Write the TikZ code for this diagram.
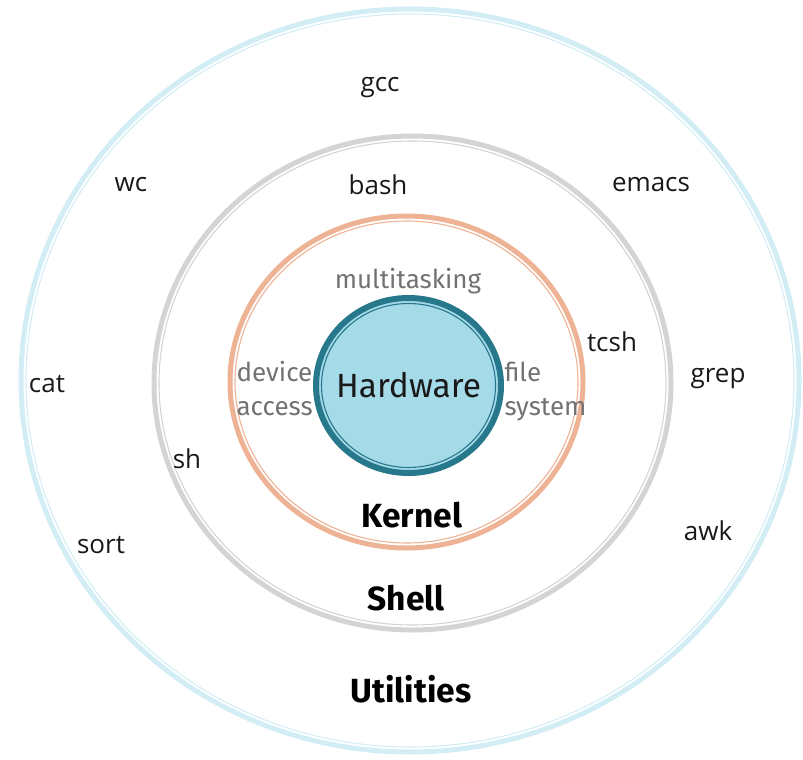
\documentclass[tikz,border=0pt]{standalone}
\usepackage{fontspec}
\setmainfont{Fira Sans}
\newfontfamily\utilfont{Open Sans}
\usetikzlibrary{shapes.geometric, positioning}
\definecolor{utilblue}{HTML}{D2EEF4}
\definecolor{shellgray}{HTML}{D4D4D4}
\definecolor{kernorange}{HTML}{EEB294}
\definecolor{hwedge}{HTML}{28788C}
\definecolor{hwfill}{HTML}{A5DAE8}
\definecolor{labelgray}{HTML}{727272}

\begin{document}
\begin{tikzpicture}[
    x=1pt, y=-1pt,
    % styles
    ring/.style={line width=5pt},
    ringline/.style={line width=1.1pt},
    util/.style={anchor=base, font=\utilfont\fontsize{26}{30}\selectfont, text=black!90},
    task/.style={font=\fontsize{26}{34}\selectfont, text=labelgray},
    layer/.style={anchor=base, font=\fontsize{33.5}{36}\selectfont\bfseries, text=black},
    hwlabel/.style={font=\fontsize{33.5}{36}\selectfont, text=black!90}
]
    \useasboundingbox (0,0) rectangle (803,760);

    % --- centres ---
    \coordinate (cu) at (410,380.5);
    \coordinate (cs) at (412.5,383);
    \coordinate (ck) at (406.5,382);
    \coordinate (ch) at (408.5,385.5);

    % --- rings ---
    \draw [ring, utilblue] (cu) ellipse [x radius=389pt, y radius=371.5pt];
    \draw [ringline, utilblue] (cu) ellipse [x radius=384pt, y radius=366.5pt];
    \draw [ring, shellgray] (cs) ellipse [x radius=258.5pt, y radius=247pt];
    \draw [ringline, shellgray] (cs) ellipse [x radius=253.5pt, y radius=242pt];
    \draw [ring, kernorange] (ck) ellipse [x radius=176.5pt, y radius=166pt];
    \draw [ringline, kernorange] (ck) ellipse [x radius=171.5pt, y radius=161pt];

    % --- hardware ---
    \draw [hwedge, fill=hwfill, line width=6pt] (ch) ellipse [x radius=92.5pt, y radius=87.5pt];
    \draw [ringline, hwedge] (ch) ellipse [x radius=87pt, y radius=82pt];
    \node (hw) [hwlabel] at (ch) {Hardware};

    % --- kernel tasks ---
    \node (multi) [task, anchor=base] at (408,288) {multitasking};
    \node (dev) [task, align=left, anchor=north west] at (233,358) {device\\access};
    \node (fs) [task, align=left, anchor=north west] at (501,358) {file\\system};

    % --- layer names ---
    \node (kernel) [layer] at (412,527) {Kernel};
    \node (shell) [layer] at (406,610) {Shell};
    \node (utils) [layer] at (411,702) {Utilities};

    % --- shells ---
    \node (bash) [util] at (378,194) {bash};
    \node (tcsh) [util] at (612,351) {tcsh};
    \node (sh) [util] at (187,468) {sh};

    % --- utilities ---
    \node (gcc) [util] at (380,92) {gcc};
    \node (wc) [util] at (131,191) {wc};
    \node (emacs) [util] at (651,191) {emacs};
    \node (cat) [util] at (47,392) {cat};
    \node (grep) [util] at (718,382) {grep};
    \node (awk) [util] at (708,540) {awk};
    \node (sort) [util] at (101,553) {sort};

\end{tikzpicture}
\end{document}
